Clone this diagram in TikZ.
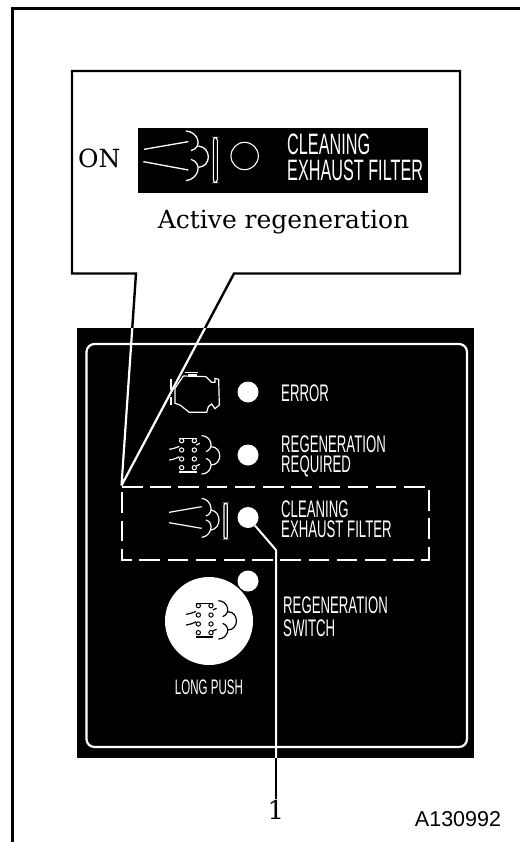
\documentclass[tikz,border=0pt]{standalone}
\usepackage{fontspec}
\newfontfamily\condf[FakeStretch=0.55]{Liberation Sans}
\newfontfamily\arialf{Liberation Sans}
\newfontfamily\serf{DejaVu Serif}
\tikzset{
  ledlamp/.style={circle,fill=white,inner sep=0pt,minimum size=21pt},
  paneltxt/.style={text=white,anchor=west,inner sep=0pt,align=left,font=\condf\fontsize{24}{20}\selectfont},
  serift/.style={inner sep=0pt,font=\serf\fontsize{25}{28}\selectfont},
  wline/.style={draw=white,line width=2.2pt},
  bline/.style={draw=black,line width=2.4pt},
  pics/regen/.style={code={
    \begin{scope}[line width=1.2pt,scale=1/3]
      \draw (-45,-50)--(7,-50) (-45,51)--(7,51);
      \foreach \yy in {-43,-15,12,38}{\draw[line width=1pt] (-38,\yy) circle (6.5) (0,\yy) circle (6.5);}
      \draw (-75,-17)..controls (-60,-19) and (-50,-24)..(-45,-26) (-75,15)..controls (-60,13) and (-50,8)..(-45,5);
      \draw (6,-30)..controls (8,-30) and (12,-35)..(17,-35) (6,33)..controls (8,33) and (12,28)..(17,28);
      \draw (22,-58)..controls (50,-58) and (62,-20)..(35,-10);
      \draw (50,-25)..controls (85,-25) and (85,30)..(50,30);
      \draw (22,57)..controls (50,57) and (62,20)..(35,10);
    \end{scope}
  }},
}
\begin{document}
\begin{tikzpicture}[x=1pt,y=-1pt]
\useasboundingbox (0,0) rectangle (520,842);
\fill[white] (0,0) rectangle (520,842);
% page frame
\draw[line width=3.5pt] (12.5,842) -- (12.5,8.5) -- (520,8.5);
% callout
\coordinate (tip) at (121.5,485.5);
\coordinate (cA) at (136,273.5);
\coordinate (cB) at (234,273.5);
\draw[bline] (tip) -- (cA) -- (72,273.5) -- (72,71) -- (460,71) -- (460,273.5) -- (cB) -- cycle;
% label strip in callout
\node (strip) [fill=black,minimum width=290pt,minimum height=65pt,inner sep=0pt,anchor=north west] at (138,128) {};
\begin{scope}[shift={(60,60)},scale=1/3,line width=1.3pt,white]
  \draw (252,268)--(385,245) (250,305)--(385,330);
  \draw (378,213)..controls (415,215) and (430,262)..(393,272);
  \draw (415,258)..controls (455,262) and (455,320)..(415,322);
  \draw (378,362)..controls (415,358) and (430,310)..(393,298);
  \draw[rounded corners=3pt,line width=1.1pt] (460,232) rectangle (472,368);
  \draw[line width=1.1pt] (554,288) circle (41);
\end{scope}
\node (striptxt) [text=white,anchor=west,inner sep=0pt,align=left,font=\condf\fontsize{29.5}{26}\selectfont] at (287,157) {CLEANING\\EXHAUST FILTER};
\node (on) [serift,anchor=west] at (78,158) {ON};
\node (active) [serift] at (283.5,222) {Active regeneration};
% panel
\node (panel) [fill=black,minimum width=397.5pt,minimum height=430pt,inner sep=0pt,anchor=north west] at (76.5,328) {};
\draw[wline,rounded corners=8pt] (86.5,344) rectangle (467,747);
\begin{scope}
  \clip (76.5,328) rectangle (474,758);
  \draw[wline] (tip) -- (cA) (tip) -- (cB);
\end{scope}
% dashed box
\draw[draw=white,line width=2pt,dash pattern=on 20.5pt off 7.7pt] (122,487) -- (429,487) -- (429,559.5) -- (122,559.5) -- cycle;
% engine icon
\begin{scope}[shift={(100,340)},scale=1/3,white,line width=1.2pt]
  \draw (225,145)--(250,108)--(318,110)--(335,127)--(345,127)--(345,115)--(356,118)--(358,195)--(345,206)--(335,192)--(325,200)--(320,217)--(268,217)--(240,195)--(225,190)--cycle;
  \draw (255,98)--(295,98) (265,105)--(290,105);
  \draw (213,118)--(213,150) (213,172)--(213,195);
\end{scope}
\node (led1) [ledlamp] at (248,392) {};
\node (txt1) [paneltxt] at (281,393) {ERROR};
% regeneration required icon
\pic[white] at (194.3,455) {regen};
\node (led2) [ledlamp] at (248,455) {};
\node (txt2) [paneltxt] at (281,456) {REGENERATION\\REQUIRED};
% cleaning icon
\begin{scope}[shift={(100,340)},scale=1/3,white,line width=1.2pt]
  \draw (207,517)--(305,500) (207,548)--(305,565);
  \draw (305,475)..controls (333,477) and (345,520)..(318,528);
  \draw (333,510)..controls (365,515) and (365,565)..(333,570);
  \draw (305,592)..controls (333,590) and (345,548)..(318,540);
  \draw[rounded corners=2pt] (372,490) rectangle (382,596);
\end{scope}
\node (led3) [ledlamp] at (248,517.5) {};
\node (txt3) [paneltxt] at (281,519) {CLEANING\\EXHAUST FILTER};
% push button
\node (button) [circle,fill=white,inner sep=0pt,minimum size=88pt] at (209,621) {};
\node (led4) [ledlamp] at (248,581) {};
\pic[black] at (211,620) {regen};
\node (txt4) [paneltxt,font=\condf\fontsize{24}{23}\selectfont] at (283,617) {REGENERATION\\SWITCH};
\node (long) [text=white,inner sep=0pt,font=\condf\fontsize{21}{20}\selectfont] at (209,687) {LONG PUSH};
% leader
\node (one) [serift,anchor=north,inner ysep=1pt,font=\serf\fontsize{26}{26}\selectfont] at (276,799) {1};
\coordinate (bend) at (276,550);
\coordinate (edge) at (276,758);
\draw[draw=white,line width=2pt] (led3) -- (bend) -- (edge);
\draw[draw=black,line width=2pt] (edge) -- (one.north);
\node (code) [inner sep=0pt,font=\arialf\fontsize{21.5}{21}\selectfont] at (458,819) {A130992};
\end{tikzpicture}
\end{document}
